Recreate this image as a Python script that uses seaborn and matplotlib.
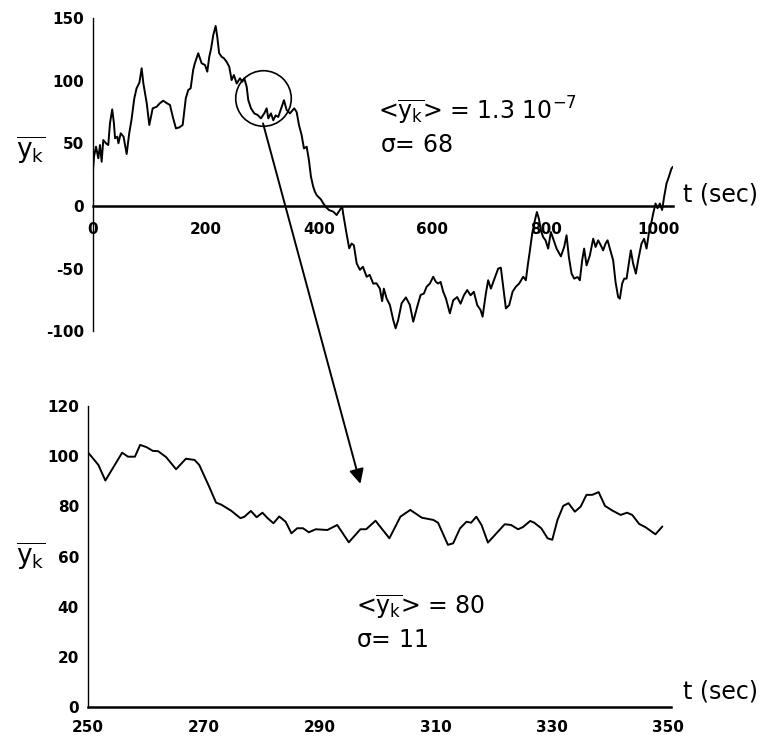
import numpy as np
import pandas as pd
import matplotlib
matplotlib.use('Agg')
import matplotlib.pyplot as plt
import seaborn as sns
from matplotlib.patches import ConnectionPatch

# full record, t in sec, mean-removed signal
t_full = [0, 1.8, 5.3, 9.4, 12.4, 15.3, 18.2, 23, 27, 30, 34, 37, 39, 43, 45, 49, 54, 59.5, 64, 68,
          73, 77, 82, 86, 89, 95, 99.5, 105.5, 112.5, 118, 124, 131, 136, 141, 146.6, 152.5, 158.5, 164, 168.4, 172.6,
          177, 180, 186, 192, 198, 202, 205.5, 208.5, 212.6, 216.8, 219.6, 223, 227.4, 231.4, 236, 240.8, 245, 249, 254, 259.7,
          263.8, 267.3, 271.6, 274.4, 279.2, 285, 291, 296.8, 302.7, 306.9, 309.8, 314.5, 318.6, 322.8, 327.4, 333.4, 337.5, 342.2, 348, 355.7,
          359.9, 364, 368.7, 372.8, 377.6, 381.6, 385.2, 389.2, 392.2, 395.2, 398.1, 402.8, 406.9, 411.1, 417, 424.6, 430.6, 438.2, 440.5, 442,
          448, 452.8, 457, 461, 466, 471.7, 477, 483.6, 489, 495.3, 501, 507, 511, 514, 519, 524.7, 530.6, 534.8, 539.4, 545.4,
          553, 560, 566, 573, 579, 584.8, 589.6, 595.4, 601.3, 606, 610, 614.3, 619, 623.7, 630.7, 636.6, 643.6, 649.6, 655.5, 661.3,
          667.3, 673.1, 679, 685, 688.5, 694.3, 698.4, 703.2, 708.5, 716.1, 720.8, 725, 729.7, 735.6, 741.5, 747.3, 753.2, 760.3, 765, 768.5,
          772, 776.2, 781, 784.5, 788, 791.5, 795.6, 799.8, 804.4, 809.2, 813.2, 819.3, 826.9, 832.7, 836.9, 841, 845.8, 850.4, 856.4, 860.4,
          864.5, 868, 872.3, 878.1, 884, 888.2, 892.8, 897.5, 901.6, 905.8, 909.4, 913.4, 919.3, 923.5, 928.1, 931.1, 935.2, 938.7, 943, 947,
          950.5, 954.6, 959.4, 963.4, 969.4, 974, 978.3, 982.3, 985.9, 990, 994.2, 997.7, 1001.8, 1005.8, 1009.4, 1013.6, 1017.7, 1022.4, 1025]
y_full = [28.8, 39.4, 47.4, 38.1, 48.7, 35.4, 52.7, 50.1, 48.7, 66.1, 77.2, 66.1, 54.1, 55.4, 50.1, 58.1, 55.4, 41.5, 58.1, 68.7,
          86.0, 94.0, 98.5, 110, 98, 82, 64.7, 78, 79.3, 82, 84.1, 82, 80.7, 71.3, 62, 62.8, 64.7, 86, 92.7, 94,
          108.6, 114, 122, 114, 112.6, 107.3, 119.2, 125.2, 136.6, 143.8, 135.2, 122, 119.2, 118, 115.3, 111.3, 100.6, 104.6, 97.8, 102,
          99.3, 102, 95.3, 84.7, 78, 74, 72.7, 70, 74, 78, 70, 74, 68.5, 72.4, 71.1, 79.1, 84.5, 76.7, 74, 78,
          75.1, 64.7, 56.7, 46, 47.4, 36.7, 23.4, 15.4, 11.4, 8.8, 7.4, 5.3, 2.2, -0.6, -3.2, -4.5, -7.2, -1.8, -0.6, -5.8,
          -21.8, -33.8, -30, -31.3, -45.8, -51, -48.5, -56.5, -55, -62, -61.7, -66, -76, -66, -74, -79, -91, -97.7, -91, -77.7,
          -73, -79, -92.4, -80.4, -71, -69.9, -64.5, -61.9, -56.5, -60.6, -61.9, -60.6, -68.5, -73.8, -85.7, -75.3, -72.7, -78, -71.3, -67.1,
          -71.3, -68.5, -79.1, -83.1, -88.4, -69.9, -59.3, -66, -59.3, -50, -49.2, -64.5, -81.8, -79.1, -68.5, -64.5, -61.9, -56.5, -59.3, -47,
          -36, -22, -11.4, -4.8, -10.1, -19.4, -24.8, -27.4, -34, -20.8, -26.1, -34, -40.2, -32.7, -23.4, -40.7, -54, -58, -56.7, -59.3,
          -43.4, -34, -47.4, -39.5, -26.1, -32.7, -27.4, -31.4, -35.4, -30, -27.4, -34, -43.4, -60.7, -72.7, -74, -62, -58, -58, -46,
          -35.4, -46, -54, -43.4, -30, -26.1, -34, -22, -15.4, -6, 2, -1.8, 2, -3.2, 7.4, 18, 23.3, 30, 31.3]

# zoom on 250-350 sec
t_zoom = [250.0, 250.7, 251.8, 253.0, 255.9, 256.9, 258.1, 259.0, 260.1, 261.2, 262.1, 263.5, 265.2, 266.9, 268.4, 269.2,
          270.9, 272.1, 273.0, 274.7, 276.3, 277.0, 278.1, 279.1, 280.1, 281.0, 282.0, 283.0, 284.1, 285.1, 286.1, 287.1,
          288.1, 289.3, 291.3, 293.0, 295.0, 297.0, 298.0, 299.6, 302.0, 303.9, 305.6, 307.6, 309.6, 310.4, 312.1, 313.0,
          314.2, 315.3, 316.1, 317.0, 317.9, 319.0, 320.2, 321.9, 323.0, 324.2, 325.0, 326.3, 327.0, 328.2, 329.3, 330.1,
          331.0, 332.0, 332.9, 334.0, 335.0, 336.0, 337.0, 338.1, 339.2, 340.5, 341.9, 343.0, 343.9, 345.1, 346.2, 347.9, 349.1]
y_zoom = [101.5, 99.6, 96.5, 90.3, 101.4, 99.8, 99.8, 104.5, 103.6, 102.1, 102.0, 99.6, 94.8, 99.0, 98.5, 96.5,
          87.9, 81.5, 80.7, 78.3, 75.3, 75.9, 78.2, 75.7, 77.5, 75.3, 73.3, 76.0, 73.9, 69.3, 71.3, 71.3,
          69.7, 70.9, 70.6, 72.6, 65.7, 70.9, 70.9, 74.3, 67.3, 75.9, 78.6, 75.5, 74.6, 73.5, 64.7, 65.3,
          71.3, 73.9, 73.5, 75.9, 72.6, 65.6, 68.6, 72.9, 72.6, 70.9, 71.7, 74.2, 73.5, 71.3, 67.3, 66.7,
          74.6, 80.2, 81.3, 77.9, 79.9, 84.6, 84.6, 85.7, 80.2, 78.3, 76.6, 77.5, 76.6, 73.0, 71.7, 68.9, 72.0]

full_ticks_x = [0, 200, 400, 600, 800, 1000]
full_ticks_y = [-100, -50, 0, 50, 100, 150]
zoom_ticks_x = [250, 270, 290, 310, 330, 350]
zoom_ticks_y = [0, 20, 40, 60, 80, 100, 120]
circle_center = (300, 86.5)

df_full = pd.DataFrame({'t': t_full, 'y': y_full})
df_zoom = pd.DataFrame({'t': t_zoom, 'y': y_zoom})

sns.set_style('white')
plt.rcParams['font.family'] = ['DejaVu Sans']
plt.rcParams['axes.unicode_minus'] = False
plt.rcParams['text.color'] = 'black'
plt.rcParams['xtick.color'] = 'black'
plt.rcParams['ytick.color'] = 'black'
plt.rcParams['axes.edgecolor'] = 'black'
plt.rcParams['mathtext.fontset'] = 'custom'
plt.rcParams['mathtext.rm'] = 'DejaVu Sans'
plt.rcParams['mathtext.it'] = 'DejaVu Sans'
plt.rcParams['mathtext.bf'] = 'DejaVu Sans:bold'

fig = plt.figure(figsize=(7.73, 7.4), dpi=100)
ax1 = fig.add_axes([0.1203, 0.5524, 0.7503, 0.423])
ax2 = fig.add_axes([0.1138, 0.0442, 0.7536, 0.4072])

sns.lineplot(data=df_full, x='t', y='y', ax=ax1, color='black', lw=1.4)
sns.lineplot(data=df_zoom, x='t', y='y', ax=ax2, color='black', lw=1.4)

for ax in (ax1, ax2):
    ax.spines['top'].set_visible(False)
    ax.spines['right'].set_visible(False)
    ax.spines['left'].set_linewidth(1.0)
    ax.spines['bottom'].set_linewidth(1.8)
    ax.set_xlabel('')
    ax.set_ylabel('')
    ax.patch.set_alpha(0)
    ax.tick_params(direction='inout', length=7, width=1, labelsize=11, pad=3, colors='black')

ax1.spines['bottom'].set_position(('data', 0))
ax1.set_xlim(0, 1025)
ax1.set_ylim(-100, 150)
ax1.set_xticks(full_ticks_x)
ax1.set_yticks(full_ticks_y)
ax1.tick_params(axis='x', pad=8)

ax2.set_xlim(250, 350.5)
ax2.set_ylim(0, 120)
ax2.set_xticks(zoom_ticks_x)
ax2.set_yticks(zoom_ticks_y)
ax2.tick_params(axis='x', pad=6)

for ax in (ax1, ax2):
    for lbl in ax.get_xticklabels() + ax.get_yticklabels():
        lbl.set_fontweight('bold')

# circled region and arrow to the zoom
ax1.plot(*circle_center, marker='o', ms=40, mfc='none', mec='black', mew=1.2)
con = ConnectionPatch(xyA=(300.5, 66), coordsA=ax1.transData,
                      xyB=(297, 89), coordsB=ax2.transData,
                      arrowstyle='-|>', mutation_scale=22, lw=1.4, color='black')
fig.add_artist(con)

# labels
ylab = r'$\overline{y_k}$'
fig.text(0.039, 0.797, ylab, fontsize=19, ha='center', va='center')
fig.text(0.039, 0.249, ylab, fontsize=19, ha='center', va='center')

fig.text(0.8836, 0.7365, 't (sec)', fontsize=17, ha='left', va='center')
fig.text(0.8836, 0.065, 't (sec)', fontsize=17, ha='left', va='center')

fig.text(0.489, 0.851, r'<$\overline{y_k}$> = 1.3 10$^{-7}$', fontsize=17, ha='left', va='center')
fig.text(0.491, 0.804, r'$\sigma$= 68', fontsize=17, ha='left', va='center')
fig.text(0.4605, 0.18, r'<$\overline{y_k}$> = 80', fontsize=17, ha='left', va='center')
fig.text(0.4605, 0.135, r'$\sigma$= 11', fontsize=17, ha='left', va='center')

fig.savefig('out.png', dpi=100)
